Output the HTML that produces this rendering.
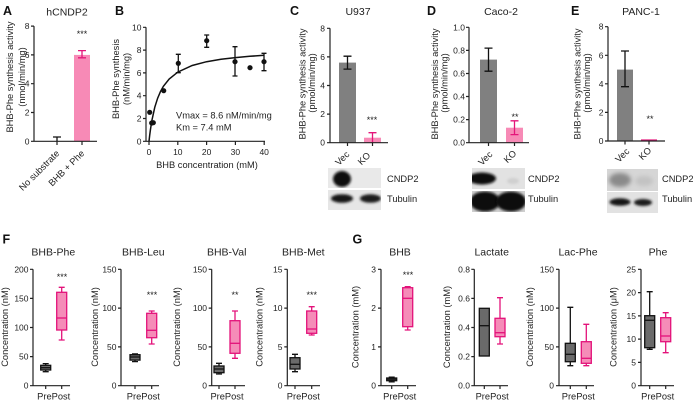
<!DOCTYPE html>
<html><head><meta charset="utf-8"><style>
html,body{margin:0;padding:0;background:#fff;}
svg{display:block;font-family:"Liberation Sans",Arial,sans-serif;}
.ax{stroke:#222;stroke-width:1.2;fill:none}
.tk{font-size:8.5px;fill:#222}
.lb{font-size:9.3px;fill:#222}
.ti{font-size:10.5px;fill:#222}
.L{font-size:12.5px;font-weight:bold;fill:#111}
.st{font-size:9px;fill:#222}
.eb{stroke:#111;stroke-width:1.3;fill:none}
.em{stroke:#e4157a;stroke-width:1.3;fill:none}
.pre{fill:#6a6a6a;stroke:#111;stroke-width:1.3}
.pm{stroke:#111;stroke-width:1.3}
.post{fill:#f58cb8;stroke:#e3127a;stroke-width:1.3}
.qm{stroke:#e3127a;stroke-width:1.3}
</style></head><body>
<svg width="693" height="403" viewBox="0 0 693 403">
<defs>
<filter id="bl" x="-50%" y="-50%" width="200%" height="200%"><feGaussianBlur stdDeviation="1.3"/></filter>
<filter id="bl2" x="-50%" y="-50%" width="200%" height="200%"><feGaussianBlur stdDeviation="2"/></filter>
<clipPath id="c1"><rect x="328" y="168" width="53" height="20"/></clipPath>
<clipPath id="c2"><rect x="328" y="190" width="53" height="20"/></clipPath>
<clipPath id="d1"><rect x="472" y="168" width="53" height="21"/></clipPath>
<clipPath id="d2"><rect x="472" y="191" width="53" height="21"/></clipPath>
<clipPath id="e1"><rect x="607" y="169" width="51" height="22"/></clipPath>
<clipPath id="e2"><rect x="607" y="192" width="51" height="21"/></clipPath>
</defs>

<!-- Panel letters -->
<text class="L" x="3" y="15">A</text>
<text class="L" x="115" y="15">B</text>
<text class="L" x="290" y="15">C</text>
<text class="L" x="427" y="15">D</text>
<text class="L" x="571" y="15">E</text>
<text class="L" x="2.5" y="243.5">F</text>
<text class="L" x="352.5" y="243.5">G</text>

<!-- ===== Panel A ===== -->
<text class="ti" x="67" y="15.5" text-anchor="middle">hCNDP2</text>
<text class="lb" transform="translate(12.8,77) rotate(-90)" text-anchor="middle">BHB-Phe synthesis activity</text>
<text class="lb" transform="translate(25,77) rotate(-90)" text-anchor="middle">(nmol/min/mg)</text>
<rect x="74" y="54.9" width="16" height="86.4" fill="#f78ab6"/>
<path class="em" d="M82,50.6V57.8M78,50.6H86M78,57.8H86"/>
<path class="eb" d="M57,141.3V137M53,137H61"/>
<path class="ax" d="M34,26.1V141.3H97M31,26.1H34M31,54.9H34M31,83.7H34M31,112.5H34M31,141.3H34M57,141.3V145M82,141.3V145"/>
<g class="tk" text-anchor="end">
<text x="29.5" y="29.1">8</text><text x="29.5" y="57.9">6</text><text x="29.5" y="86.7">4</text><text x="29.5" y="115.5">2</text><text x="29.5" y="144.3">0</text>
</g>
<text class="st" x="82" y="37" text-anchor="middle">***</text>
<text class="lb" transform="translate(60,154) rotate(-45)" text-anchor="end">No substrate</text>
<text class="lb" transform="translate(85,154) rotate(-45)" text-anchor="end">BHB + Phe</text>

<!-- ===== Panel B ===== -->
<text class="lb" transform="translate(118.8,79) rotate(-90)" text-anchor="middle">BHB-Phe synthesis</text>
<text class="lb" transform="translate(129.5,79) rotate(-90)" text-anchor="middle">(nM/min/mg)</text>
<path class="ax" d="M146,27.3V141.3H265M143,27.3H146M143,50.1H146M143,72.9H146M143,95.7H146M143,118.5H146M143,141.3H146M149,141.3V145M177.8,141.3V145M206.6,141.3V145M235.4,141.3V145M264.2,141.3V145"/>
<g class="tk" text-anchor="end">
<text x="141.5" y="30.3">10</text><text x="141.5" y="53.1">8</text><text x="141.5" y="75.9">6</text><text x="141.5" y="98.7">4</text><text x="141.5" y="121.5">2</text><text x="141.5" y="144.3">0</text>
</g>
<g class="tk" text-anchor="middle">
<text x="149" y="155">0</text><text x="177.8" y="155">10</text><text x="206.6" y="155">20</text><text x="235.4" y="155">30</text><text x="264.2" y="155">40</text>
</g>
<text class="lb" x="207" y="168" text-anchor="middle">BHB concentration (mM)</text>
<path d="M149,141.3L149.72,135.1L150.44,129.6L151.88,120.5L154.76,107.3L157.64,98.2L160.52,91.4L163.4,86.3L169.16,79.0L177.8,72.1L192.2,65.5L206.6,61.7L221,59.3L235.4,57.6L249.8,56.3L264.2,55.3" fill="none" stroke="#111" stroke-width="1.5"/>
<path class="eb" d="M178.3,54.3V72.7M175.8,54.3H180.8M175.8,72.7H180.8M206.7,35V47.3M204.2,35H209.2M204.2,47.3H209.2M235,46.7V76M232.5,46.7H237.5M232.5,76H237.5M264,53.3V70.7M261.5,53.3H266.5M261.5,70.7H266.5"/>
<g fill="#111">
<circle cx="149.7" cy="112.3" r="2.6"/><circle cx="151.7" cy="123" r="2.6"/><circle cx="153.3" cy="122.7" r="2.6"/>
<circle cx="163.7" cy="90.7" r="2.6"/><circle cx="178.3" cy="63.3" r="2.6"/><circle cx="206.7" cy="40.7" r="2.6"/>
<circle cx="235" cy="61.7" r="2.6"/><circle cx="250" cy="67.7" r="2.6"/><circle cx="264" cy="61.7" r="2.6"/>
</g>
<text class="lb" x="176" y="118.5">Vmax = 8.6 nM/min/mg</text>
<text class="lb" x="176" y="130.5">Km = 7.4 mM</text>

<!-- ===== Panel C ===== -->
<text class="ti" x="358" y="15" text-anchor="middle">U937</text>
<text class="lb" transform="translate(305.5,84) rotate(-90)" text-anchor="middle">BHB-Phe synthesis activity</text>
<text class="lb" transform="translate(315,83) rotate(-90)" text-anchor="middle">(pmol/min/mg)</text>
<rect x="339" y="62.6" width="17" height="80.1" fill="#808080"/>
<path class="eb" d="M347.5,56.2V69.1M343.5,56.2H351.5M343.5,69.1H351.5"/>
<rect x="364" y="137.7" width="17" height="5" fill="#f78ab6"/>
<path class="em" d="M372.5,132.7V142.7M368.5,132.7H376.5"/>
<path class="ax" d="M330,28.3V142.7H388M327,28.3H330M327,56.9H330M327,85.5H330M327,114.1H330M327,142.7H330M347.5,142.7V146M372.5,142.7V146"/>
<g class="tk" text-anchor="end">
<text x="325" y="31.3">8</text><text x="325" y="59.9">6</text><text x="325" y="88.5">4</text><text x="325" y="117.1">2</text><text x="325" y="145.7">0</text>
</g>
<text class="st" x="372" y="123" text-anchor="middle">***</text>
<text class="lb" transform="translate(350,155) rotate(-45)" text-anchor="end">Vec</text>
<text class="lb" transform="translate(371,156) rotate(-45)" text-anchor="end">KO</text>
<!-- blot C -->
<rect x="328" y="168" width="53" height="20" fill="#e9e9e9"/>
<g clip-path="url(#c1)"><ellipse cx="342" cy="179" rx="9" ry="8" fill="#0d0d0d" filter="url(#bl)"/></g>
<rect x="328" y="190" width="53" height="20" fill="#e6e6e6"/>
<g clip-path="url(#c2)"><ellipse cx="342" cy="198.5" rx="11" ry="4.3" fill="#151515" filter="url(#bl)"/><ellipse cx="370.5" cy="198.5" rx="10.5" ry="4.3" fill="#1a1a1a" filter="url(#bl)"/></g>
<text class="lb" x="387" y="182">CNDP2</text>
<text class="lb" x="387" y="202">Tubulin</text>

<!-- ===== Panel D ===== -->
<text class="ti" x="501" y="15" text-anchor="middle">Caco-2</text>
<text class="lb" transform="translate(438,84) rotate(-90)" text-anchor="middle">BHB-Phe synthesis activity</text>
<text class="lb" transform="translate(447.5,83) rotate(-90)" text-anchor="middle">(pmol/min/mg)</text>
<rect x="480" y="59.6" width="17" height="83.1" fill="#808080"/>
<path class="eb" d="M488.5,48.1V71.2M484.5,48.1H492.5M484.5,71.2H492.5"/>
<rect x="506" y="127.7" width="17" height="15" fill="#f78ab6"/>
<path class="em" d="M514.5,120.8V134.6M510.5,120.8H518.5M510.5,134.6H518.5"/>
<path class="ax" d="M469,27.3V142.7H529M466,27.3H469M466,50.4H469M466,73.5H469M466,96.5H469M466,119.6H469M466,142.7H469M488.5,142.7V146M514.5,142.7V146"/>
<g class="tk" text-anchor="end">
<text x="465" y="30.3">1.0</text><text x="465" y="53.4">0.8</text><text x="465" y="76.5">0.6</text><text x="465" y="99.5">0.4</text><text x="465" y="122.6">0.2</text><text x="465" y="145.7">0.0</text>
</g>
<text class="st" x="515" y="120" text-anchor="middle">**</text>
<text class="lb" transform="translate(493,155) rotate(-45)" text-anchor="end">Vec</text>
<text class="lb" transform="translate(517,154) rotate(-45)" text-anchor="end">KO</text>
<!-- blot D -->
<rect x="472" y="168" width="53" height="21" fill="#e2e2e2"/>
<g clip-path="url(#d1)"><ellipse cx="482" cy="178.5" rx="14" ry="6" fill="#111" filter="url(#bl)"/><ellipse cx="513" cy="181" rx="6" ry="3" fill="#cfcfcf" filter="url(#bl)"/></g>
<rect x="472" y="191" width="53" height="21" fill="#cfcfcf"/>
<g clip-path="url(#d2)"><ellipse cx="485" cy="201.5" rx="15" ry="10" fill="#080808" filter="url(#bl)"/><ellipse cx="511" cy="201.5" rx="15" ry="10" fill="#0a0a0a" filter="url(#bl)"/></g>
<text class="lb" x="528" y="182">CNDP2</text>
<text class="lb" x="528" y="202">Tubulin</text>

<!-- ===== Panel E ===== -->
<text class="ti" x="641" y="15" text-anchor="middle">PANC-1</text>
<text class="lb" transform="translate(580.5,84) rotate(-90)" text-anchor="middle">BHB-Phe synthesis activity</text>
<text class="lb" transform="translate(590,83) rotate(-90)" text-anchor="middle">(pmol/min/mg)</text>
<rect x="617" y="69.6" width="16" height="71.4" fill="#808080"/>
<path class="eb" d="M625,51V86.7M621,51H629M621,86.7H629"/>
<rect x="641" y="139.4" width="16" height="1.6" fill="#e4157a"/>
<path class="ax" d="M608,26.7V141H665M605,26.7H608M605,55.3H608M605,83.8H608M605,112.4H608M605,141H608M625,141V144.5M649,141V144.5"/>
<g class="tk" text-anchor="end">
<text x="603.5" y="29.7">8</text><text x="603.5" y="58.3">6</text><text x="603.5" y="86.8">4</text><text x="603.5" y="115.4">2</text><text x="603.5" y="144">0</text>
</g>
<text class="st" x="650" y="122" text-anchor="middle">**</text>
<text class="lb" transform="translate(630,152) rotate(-45)" text-anchor="end">Vec</text>
<text class="lb" transform="translate(652,151) rotate(-45)" text-anchor="end">KO</text>
<!-- blot E -->
<rect x="607" y="169" width="51" height="22" fill="#d6d6d6"/>
<g clip-path="url(#e1)"><ellipse cx="620" cy="180" rx="11" ry="7" fill="#8a8a8a" filter="url(#bl2)"/><ellipse cx="644" cy="181" rx="9" ry="5" fill="#c2c2c2" filter="url(#bl2)"/></g>
<rect x="607" y="192" width="51" height="21" fill="#e2e2e2"/>
<g clip-path="url(#e2)"><ellipse cx="620" cy="202" rx="10.5" ry="3.8" fill="#121212" filter="url(#bl)"/><ellipse cx="643" cy="202.5" rx="9" ry="3.5" fill="#1a1a1a" filter="url(#bl)"/></g>
<text class="lb" x="662" y="182">CNDP2</text>
<text class="lb" x="662" y="202">Tubulin</text>

<!-- ===== Bottom panels ===== -->
<!-- F1 BHB-Phe -->
<text class="ti" x="53.3" y="255.5" text-anchor="middle">BHB-Phe</text>
<text class="lb" transform="translate(8,327) rotate(-90)" text-anchor="middle">Concentration (nM)</text>
<path class="ax" d="M33,269.3V385.7H70M30,269.3H33M30,298.4H33M30,327.5H33M30,356.6H33M30,385.7H33M45.7,385.7V389M61.7,385.7V389"/>
<g class="tk" text-anchor="end"><text x="28.5" y="272.3">200</text><text x="28.5" y="301.4">150</text><text x="28.5" y="330.5">100</text><text x="28.5" y="359.6">50</text><text x="28.5" y="388.7">0</text></g>
<path class="pm" d="M45.7,363.6V371.7M42.7,363.6H48.7M42.7,371.7H48.7"/>
<rect class="pre" x="40.7" y="365.3" width="10" height="4.7"/><path class="pm" d="M40.7,367.7H50.7"/>
<path class="qm" d="M61.7,287.3V340M58.7,287.3H64.7M58.7,340H64.7"/>
<rect class="post" x="56.7" y="292.3" width="10" height="37.7"/><path class="qm" d="M56.7,318H66.7"/>
<text class="st" x="62" y="280" text-anchor="middle">***</text>
<text class="lb" x="53.7" y="399.5" text-anchor="middle">PrePost</text>

<!-- F2 BHB-Leu -->
<text class="ti" x="143.3" y="255.5" text-anchor="middle">BHB-Leu</text>
<text class="lb" transform="translate(98,327) rotate(-90)" text-anchor="middle">Concentration (nM)</text>
<path class="ax" d="M121,269.3V385.7H159M118,269.3H121M118,308.1H121M118,346.9H121M118,385.7H121M135,385.7V389M151.7,385.7V389"/>
<g class="tk" text-anchor="end"><text x="116.5" y="272.3">150</text><text x="116.5" y="311.1">100</text><text x="116.5" y="349.9">50</text><text x="116.5" y="388.7">0</text></g>
<path class="pm" d="M135,353.9V361.6M132,353.9H138M132,361.6H138"/>
<rect class="pre" x="130" y="354.7" width="10" height="5.4"/><path class="pm" d="M130,357H140"/>
<path class="qm" d="M151.7,311V344M148.7,311H154.7M148.7,344H154.7"/>
<rect class="post" x="146.7" y="313.3" width="10" height="24.4"/><path class="qm" d="M146.7,330.3H156.7"/>
<text class="st" x="152" y="298" text-anchor="middle">***</text>
<text class="lb" x="143.35" y="399.5" text-anchor="middle">PrePost</text>

<!-- F3 BHB-Val -->
<text class="ti" x="226.7" y="255.5" text-anchor="middle">BHB-Val</text>
<text class="lb" transform="translate(180,327) rotate(-90)" text-anchor="middle">Concentration (nM)</text>
<path class="ax" d="M211.7,269.3V385.7H245M208.7,269.3H211.7M208.7,308.1H211.7M208.7,346.9H211.7M208.7,385.7H211.7M219,385.7V389M235,385.7V389"/>
<g class="tk" text-anchor="end"><text x="207" y="272.3">150</text><text x="207" y="311.1">100</text><text x="207" y="349.9">50</text><text x="207" y="388.7">0</text></g>
<path class="pm" d="M219,363.3V374M216,363.3H222M216,374H222"/>
<rect class="pre" x="214" y="366" width="10" height="6.7"/><path class="pm" d="M214,369H224"/>
<path class="qm" d="M235,311V358.3M232,311H238M232,358.3H238"/>
<rect class="post" x="230" y="320.7" width="10" height="32.6"/><path class="qm" d="M230,343.3H240"/>
<text class="st" x="235" y="298" text-anchor="middle">**</text>
<text class="lb" x="227" y="399.5" text-anchor="middle">PrePost</text>

<!-- F4 BHB-Met -->
<text class="ti" x="303.3" y="255.5" text-anchor="middle">BHB-Met</text>
<text class="lb" transform="translate(262.5,327) rotate(-90)" text-anchor="middle">Concentration (nM)</text>
<path class="ax" d="M287.3,269.3V385.7H320M284.3,269.3H287.3M284.3,308.1H287.3M284.3,346.9H287.3M284.3,385.7H287.3M295,385.7V389M311.7,385.7V389"/>
<g class="tk" text-anchor="end"><text x="282.5" y="272.3">15</text><text x="282.5" y="311.1">10</text><text x="282.5" y="349.9">5</text><text x="282.5" y="388.7">0</text></g>
<path class="pm" d="M295,354.3V371.7M292,354.3H298M292,371.7H298"/>
<rect class="pre" x="290" y="357.7" width="10" height="11.3"/><path class="pm" d="M290,364.3H300"/>
<path class="qm" d="M311.7,306.7V335M308.7,306.7H314.7M308.7,335H314.7"/>
<rect class="post" x="306.7" y="311" width="10" height="22.3"/><path class="qm" d="M306.7,329H316.7"/>
<text class="st" x="311.7" y="298" text-anchor="middle">***</text>
<text class="lb" x="303.35" y="399.5" text-anchor="middle">PrePost</text>

<!-- G1 BHB -->
<text class="ti" x="400" y="255.5" text-anchor="middle">BHB</text>
<text class="lb" transform="translate(358.5,327) rotate(-90)" text-anchor="middle">Concentration (mM)</text>
<path class="ax" d="M381,269.3V385.7H416M378,269.3H381M378,308.1H381M378,346.9H381M378,385.7H381M391.7,385.7V389M407.7,385.7V389"/>
<g class="tk" text-anchor="end"><text x="376" y="272.3">3</text><text x="376" y="311.1">2</text><text x="376" y="349.9">1</text><text x="376" y="388.7">0</text></g>
<path class="pm" d="M391.7,377.2V381.8M388.7,377.2H394.7M388.7,381.8H394.7"/>
<rect x="386.7" y="378" width="10" height="2.7" fill="#222" stroke="#111" stroke-width="1.3"/>
<path class="qm" d="M407.7,286.7V330M404.7,286.7H410.7M404.7,330H410.7"/>
<rect class="post" x="402.7" y="287.7" width="10" height="39"/><path class="qm" d="M402.7,298.3H412.7"/>
<text class="st" x="408" y="278" text-anchor="middle">***</text>
<text class="lb" x="399.7" y="399.5" text-anchor="middle">PrePost</text>

<!-- G2 Lactate -->
<text class="ti" x="491.7" y="255.5" text-anchor="middle">Lactate</text>
<text class="lb" transform="translate(450,327) rotate(-90)" text-anchor="middle">Concentration (mM)</text>
<path class="ax" d="M474.3,269.3V385.7H508M471.3,269.3H474.3M471.3,298.4H474.3M471.3,327.5H474.3M471.3,356.6H474.3M471.3,385.7H474.3M484.3,385.7V389M500,385.7V389"/>
<g class="tk" text-anchor="end"><text x="470" y="272.3">0.8</text><text x="470" y="301.4">0.6</text><text x="470" y="330.5">0.4</text><text x="470" y="359.6">0.2</text><text x="470" y="388.7">0.0</text></g>
<rect class="pre" x="479.3" y="308.3" width="10" height="47.7"/><path class="pm" d="M479.3,325.7H489.3"/>
<path class="qm" d="M500,297.7V344M497,297.7H503M497,344H503"/>
<rect class="post" x="495" y="318.3" width="10" height="18.4"/><path class="qm" d="M495,332.7H505"/>
<text class="lb" x="492.15" y="399.5" text-anchor="middle">PrePost</text>

<!-- G3 Lac-Phe -->
<text class="ti" x="578" y="255.5" text-anchor="middle">Lac-Phe</text>
<text class="lb" transform="translate(533,327) rotate(-90)" text-anchor="middle">Concentration (nM)</text>
<path class="ax" d="M559,269.3V385.7H594M556,269.3H559M556,308.1H559M556,346.9H559M556,385.7H559M570.3,385.7V389M586.3,385.7V389"/>
<g class="tk" text-anchor="end"><text x="554" y="272.3">150</text><text x="554" y="311.1">100</text><text x="554" y="349.9">50</text><text x="554" y="388.7">0</text></g>
<path class="pm" d="M570.3,307.3V365.7M567.3,307.3H573.3M567.3,365.7H573.3"/>
<rect class="pre" x="565.3" y="343.3" width="10" height="18.4"/><path class="pm" d="M565.3,354.3H575.3"/>
<path class="qm" d="M586.3,324.3V365.7M583.3,324.3H589.3M583.3,365.7H589.3"/>
<rect class="post" x="581.3" y="341.7" width="10" height="21.6"/><path class="qm" d="M581.3,358.3H591.3"/>
<text class="lb" x="578.3" y="399.5" text-anchor="middle">PrePost</text>

<!-- G4 Phe -->
<text class="ti" x="658" y="255.5" text-anchor="middle">Phe</text>
<text class="lb" transform="translate(616.5,327) rotate(-90)" text-anchor="middle">Concentration (μM)</text>
<path class="ax" d="M641,269.3V385.7H674M638,269.3H641M638,292.6H641M638,315.9H641M638,339.1H641M638,362.4H641M638,385.7H641M649.7,385.7V389M665.7,385.7V389"/>
<g class="tk" text-anchor="end"><text x="636" y="272.3">25</text><text x="636" y="295.6">20</text><text x="636" y="318.9">15</text><text x="636" y="342.1">10</text><text x="636" y="365.4">5</text><text x="636" y="388.7">0</text></g>
<path class="pm" d="M649.7,291.7V349.3M646.7,291.7H652.7M646.7,349.3H652.7"/>
<rect class="pre" x="644.7" y="315.7" width="10" height="32"/><path class="pm" d="M644.7,320.3H654.7"/>
<path class="qm" d="M665.7,312.7V352.7M662.7,312.7H668.7M662.7,352.7H668.7"/>
<rect class="post" x="660.7" y="317.7" width="10" height="24"/><path class="qm" d="M660.7,336H670.7"/>
<text class="lb" x="657.7" y="399.5" text-anchor="middle">PrePost</text>
</svg>
</body></html>
